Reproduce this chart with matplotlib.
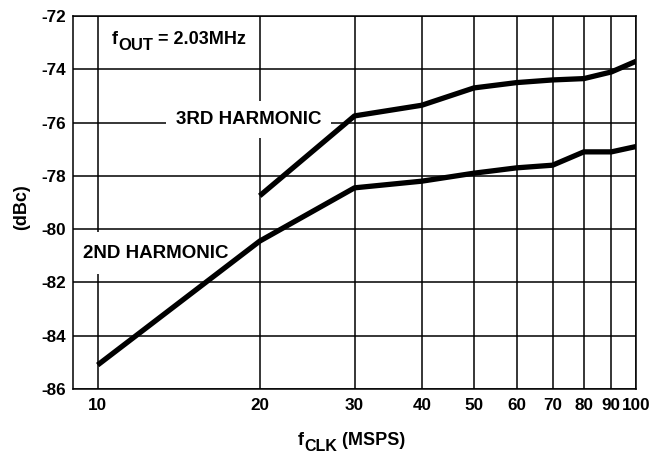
import numpy as np
import matplotlib
matplotlib.use('Agg')
import matplotlib.pyplot as plt

plt.rcParams['font.family'] = ['Liberation Sans', 'DejaVu Sans']
plt.rcParams['font.weight'] = 'bold'
plt.rcParams['axes.unicode_minus'] = False

# data
fclk_2nd = [10, 20, 30, 40, 50, 60, 70, 80, 90, 100]
h2 = [-85.1, -80.45, -78.45, -78.2, -77.9, -77.7, -77.6, -77.1, -77.1, -76.9]
fclk_3rd = [20, 30, 40, 50, 60, 70, 80, 90, 100]
h3 = [-78.75, -75.75, -75.35, -74.7, -74.5, -74.4, -74.35, -74.1, -73.7]

xticks = [10, 20, 30, 40, 50, 60, 70, 80, 90, 100]
yticks = [-86, -84, -82, -80, -78, -76, -74, -72]

W, H = 668, 453
fig = plt.figure(figsize=(W / 100, H / 100), dpi=100)
ax = fig.add_axes([0.1093, 0.1413, 0.8428, 0.8234])

ax.set_xscale('log')
ax.set_xlim(9, 100)
ax.set_ylim(-86, -72)
ax.xaxis.set_minor_locator(matplotlib.ticker.NullLocator())
ax.set_xticks(xticks)
ax.set_xticklabels([str(t) for t in xticks], fontsize=12.3, fontweight='bold')
ax.set_yticks(yticks)
ax.set_yticklabels([str(t) for t in yticks], fontsize=12.3, fontweight='bold')
ax.tick_params(axis='x', length=0, pad=6.5)
ax.tick_params(axis='y', length=0, pad=5)

ax.grid(True, color='black', linewidth=1.1)
for s in ax.spines.values():
    s.set_linewidth(1.1)

ax.plot(fclk_2nd, h2, color='black', lw=3.8, solid_capstyle='butt', zorder=3)
ax.plot(fclk_3rd, h3, color='black', lw=3.8, solid_capstyle='butt', zorder=3)

ax.text(19.1, -75.88, '3RD HARMONIC', fontsize=13.5, fontweight='bold',
        ha='center', va='center', zorder=2,
        bbox=dict(facecolor='white', edgecolor='none', pad=7))
ax.text(9.38, -80.9, '2ND HARMONIC', fontsize=13.5, fontweight='bold',
        ha='left', va='center', zorder=2,
        bbox=dict(facecolor='white', edgecolor='none', pad=9))


def sub_label(xpx, ypx, base, sub, rest, size, subsize, drop):
    # "f" + lowered subscript + rest, chained left to right
    t1 = fig.text(xpx / W, 1 - ypx / H, base, fontsize=size, fontweight='bold',
                  ha='left', va='baseline')
    t2 = ax.annotate(sub, xy=(1, 0), xycoords=t1, xytext=(0.3, -drop),
                     textcoords='offset points', fontsize=subsize,
                     fontweight='bold', ha='left', va='bottom',
                     annotation_clip=False)
    ax.annotate(rest, xy=(1, 0), xycoords=t2, xytext=(0, drop),
                textcoords='offset points', fontsize=size, fontweight='bold',
                ha='left', va='bottom', annotation_clip=False)


sub_label(112, 44, 'f', 'OUT', ' = 2.03MHz', 13, 12, 3.5)
sub_label(298, 445, 'f', 'CLK', ' (MSPS)', 13, 11.5, 3.5)

fig.text(22 / W, 1 - 207 / H, '(dBc)', fontsize=13, fontweight='bold',
         rotation=90, ha='center', va='center')

fig.savefig('out.png', dpi=100)
